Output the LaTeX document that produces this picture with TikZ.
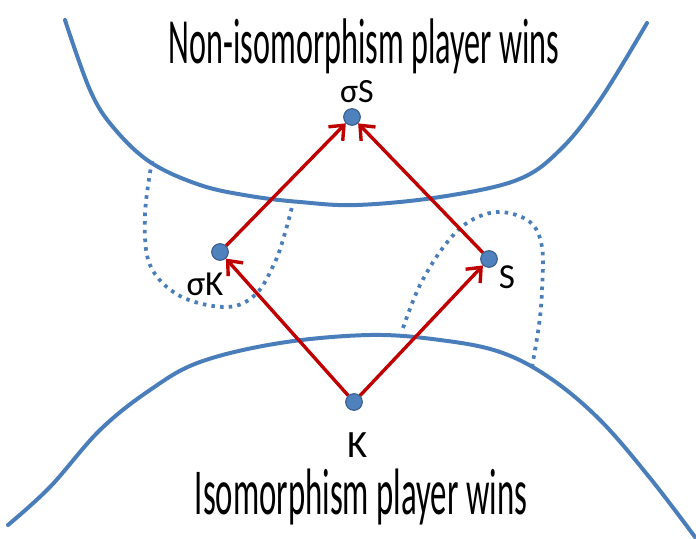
\documentclass[tikz,border=0pt]{standalone}
\usepackage{fontspec}
\setmainfont{Carlito}
\usepackage{graphicx}
\usepackage{xcolor}
\usepackage{tikz}
\usetikzlibrary{arrows.meta, positioning}

\definecolor{winblue}{HTML}{4A7EBB}
\definecolor{dotblue}{HTML}{4F81BD}
\definecolor{dotedge}{HTML}{385D8A}
\definecolor{moved}{HTML}{C00000}

\begin{document}
\begin{tikzpicture}[
  x=0.03cm, y=-0.03cm,
  border/.style={draw=winblue, line width=3.4pt, line cap=round},
  reach/.style={draw=winblue, line width=3.2pt, dash pattern=on 3pt off 4.4pt},
  gamepos/.style={circle, fill=dotblue, draw=dotedge, line width=0.9pt, minimum size=0.5cm, inner sep=0pt},
  pos_lbl/.style={font=\fontsize{30}{31}\selectfont, inner sep=0pt},
  region_lbl/.style={anchor=base, inner sep=0pt},
  move/.style={-{Straight Barb[length=3.6mm, width=6mm]}, line width=2.9pt, draw=moved}
]
  \useasboundingbox (0,0) rectangle (696,539);

  % Winning regions (top and bottom)
  \draw[border] plot[smooth, tension=0.6] coordinates {(65,20) (90,90) (113,127) (150,162) (200,185) (250,196) (300,202) (357,205) (440,197) (517,180) (560,150) (600,100) (647,23)};
  \draw[border] plot[smooth, tension=0.6] coordinates {(8,525) (50,487) (100,430) (150,390) (200,362) (280,343) (370,335) (440,340) (500,352) (550,378) (600,420) (650,478) (695,537)};

  \node[region_lbl, font=\fontsize{27.5}{28}\selectfont] (nonwins) at (364,64) {\scalebox{1}[2.0]{Non-isomorphism player wins}};
  \node[region_lbl, font=\fontsize{28}{29}\selectfont] (isowins) at (361,514) {\scalebox{1}[2.0]{Isomorphism player wins}};

  % Dotted reach of the positions
  \draw[reach] plot[smooth, tension=0.6] coordinates {(152,161) (145,215) (150,265) (180,296) (227,307) (256,294) (275,262) (285,233) (293,203)};
  \draw[reach] plot[smooth, tension=0.6] coordinates {(403,328) (420,285) (445,245) (470,221) (500,212) (530,222) (542,247) (542,290) (539,325) (532,367)};

  % Positions
  \node[gamepos] (sS) at (352,117) {};
  \node[gamepos] (sK) at (220,252) {};
  \node[gamepos] (S) at (489,259) {};
  \node[gamepos] (K) at (354,402) {};

  \node[pos_lbl, font=\fontsize{29}{30}\selectfont] (sSlbl) at (357,92) {σS};
  \node[pos_lbl] (sKlbl) at (205,284) {σK};
  \node[pos_lbl] (Slbl) at (507,277) {S};
  \node[pos_lbl, font=\fontsize{33}{34}\selectfont] (Klbl) at (358,445) {K};

  \draw[move] (K) -- (sK);
  \draw[move] (K) -- (S);
  \draw[move] (sK) -- (sS);
  \draw[move] (S) -- (sS);

\end{tikzpicture}
\end{document}
